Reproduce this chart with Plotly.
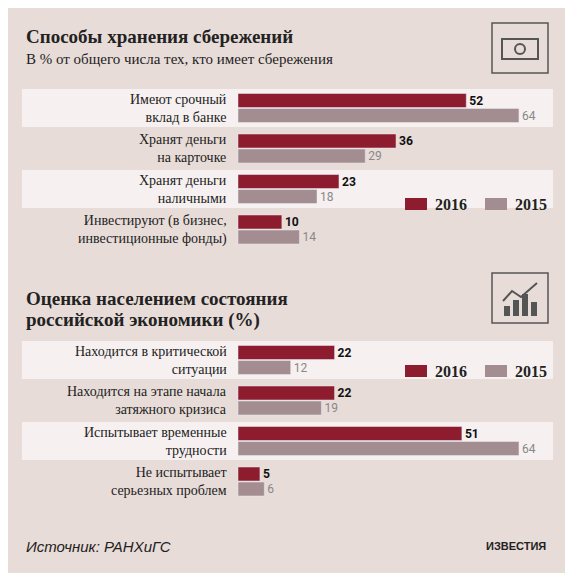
import plotly.graph_objects as go

# Savings storage (% of those who have savings)
save_labels = ["Имеют срочный<br>вклад в банке", "Хранят деньги<br>на карточке",
               "Хранят деньги<br>наличными", "Инвестируют (в бизнес,<br>инвестиционные фонды)"]
save_2016 = [52, 36, 23, 10]
save_2015 = [64, 29, 18, 14]

# Assessment of the economy (%)
econ_labels = ["Находится в критической<br>ситуации", "Находится на этапе начала<br>затяжного кризиса",
               "Испытывает временные<br>трудности", "Не испытывает<br>серьезных проблем"]
econ_2016 = [22, 22, 51, 5]
econ_2015 = [12, 19, 64, 6]

C16 = "#8c1c2e"
C15 = "#a38d91"
BG = "#e8dcd8"
BAND = "#f6f1f0"
PX = 4.39  # pixels per percent
OFF = 8    # page body margin (x)
OFFY = 7   # page body margin (y)
X0 = 238 - OFF
SERIF = "Liberation Serif"


def px(x):
    return (x - OFF) / 573


fig = go.Figure()
shapes, annots = [], []


def add_block(labels, v16, v15, top, band_rows):
    centers = [top + i * 40.5 for i in range(len(labels))]
    for i, c in enumerate(centers):
        if i in band_rows:
            shapes.append(dict(type="rect", xref="paper", yref="y", x0=px(22), x1=px(553),
                               y0=c - 19, y1=c + 19, fillcolor=BAND, line_width=0, layer="below"))
        annots.append(dict(x=-2, y=c, text=labels[i], showarrow=False, xanchor="right",
                           align="right", font=dict(family=SERIF, size=14, color="#222")))
    fig.add_trace(go.Bar(x=v16, y=[c - 7.5 for c in centers], width=14, orientation="h",
                         marker_color=C16, text=[f"<b>{v}</b>" for v in v16],
                         textposition="outside", cliponaxis=False,
                         textfont=dict(family="Roboto", size=13, color="#111"),
                         showlegend=False))
    fig.add_trace(go.Bar(x=v15, y=[c + 7.5 for c in centers], width=14, orientation="h",
                         marker_color=C15, text=v15, textposition="outside", cliponaxis=False,
                         textfont=dict(family="Roboto", size=12, color="#888"),
                         showlegend=False))


add_block(save_labels, save_2016, save_2015, 107, [0, 2])
add_block(econ_labels, econ_2016, econ_2015, 359, [0, 2])

# titles
for y, text, size, bold in [(35, "Способы хранения сбережений", 19, True),
                            (58, "В % от общего числа тех, кто имеет сбережения", 15, False),
                            (297, "Оценка населением состояния", 19, True),
                            (319, "российской экономики (%)", 19, True)]:
    annots.append(dict(xref="paper", x=px(24), y=y, text=f"<b>{text}</b>" if bold else text,
                       showarrow=False, xanchor="left",
                       font=dict(family=SERIF, size=size, color="#222")))

# legends
for ly in (203, 370):
    for lx, col, lab in [(405, C16, "2016"), (485, C15, "2015")]:
        shapes.append(dict(type="rect", xref="paper", yref="y", x0=px(lx), x1=px(lx + 22),
                           y0=ly - 6, y1=ly + 6, fillcolor=col, line_width=0))
        annots.append(dict(xref="paper", x=px(lx + 28), y=ly, text=f"<b>{lab}</b>",
                           showarrow=False, xanchor="left",
                           font=dict(family=SERIF, size=16, color="#222")))

# icon boxes
for top in (22, 272):
    shapes.append(dict(type="rect", xref="paper", yref="y", x0=px(492), x1=px(548),
                       y0=top, y1=top + 50, line=dict(color="#555", width=1.5)))
shapes.append(dict(type="rect", xref="paper", yref="y", x0=px(502), x1=px(538),
                   y0=38, y1=58, line=dict(color="#555", width=2)))
shapes.append(dict(type="circle", xref="paper", yref="y", x0=px(515), x1=px(525),
                   y0=43, y1=53, line=dict(color="#555", width=2)))
for k, h in enumerate([10, 16, 22, 14]):
    xb = 504 + k * 9
    shapes.append(dict(type="rect", xref="paper", yref="y", x0=px(xb), x1=px(xb + 6),
                       y0=315 - h, y1=315, fillcolor="#555", line_width=0))
pts = [(503, 300), (512, 290), (521, 296), (537, 282)]
shapes.append(dict(type="path", xref="paper", yref="y",
                   path="M " + " L ".join(f"{px(a):.4f} {b}" for a, b in pts),
                   line=dict(color="#555", width=2)))

annots.append(dict(xref="paper", x=px(24), y=545, text="<i>Источник: РАНХиГС</i>",
                   showarrow=False, xanchor="left",
                   font=dict(family="Liberation Sans", size=15, color="#222")))
annots.append(dict(xref="paper", x=px(548), y=545, text="<b>ИЗВЕСТИЯ</b>", showarrow=False,
                   xanchor="right", font=dict(family="Liberation Sans", size=11, color="#222")))

fig.update_layout(
    width=573, height=573, margin=dict(l=0, r=0, t=0, b=0),
    paper_bgcolor=BG, plot_bgcolor=BG, barmode="overlay",
    xaxis=dict(range=[-X0 / PX, (573 - X0) / PX], visible=False, fixedrange=True),
    yaxis=dict(range=[573 + OFFY, OFFY], visible=False, fixedrange=True),
    shapes=shapes, annotations=annots,
)
fig.write_html("out.html")
